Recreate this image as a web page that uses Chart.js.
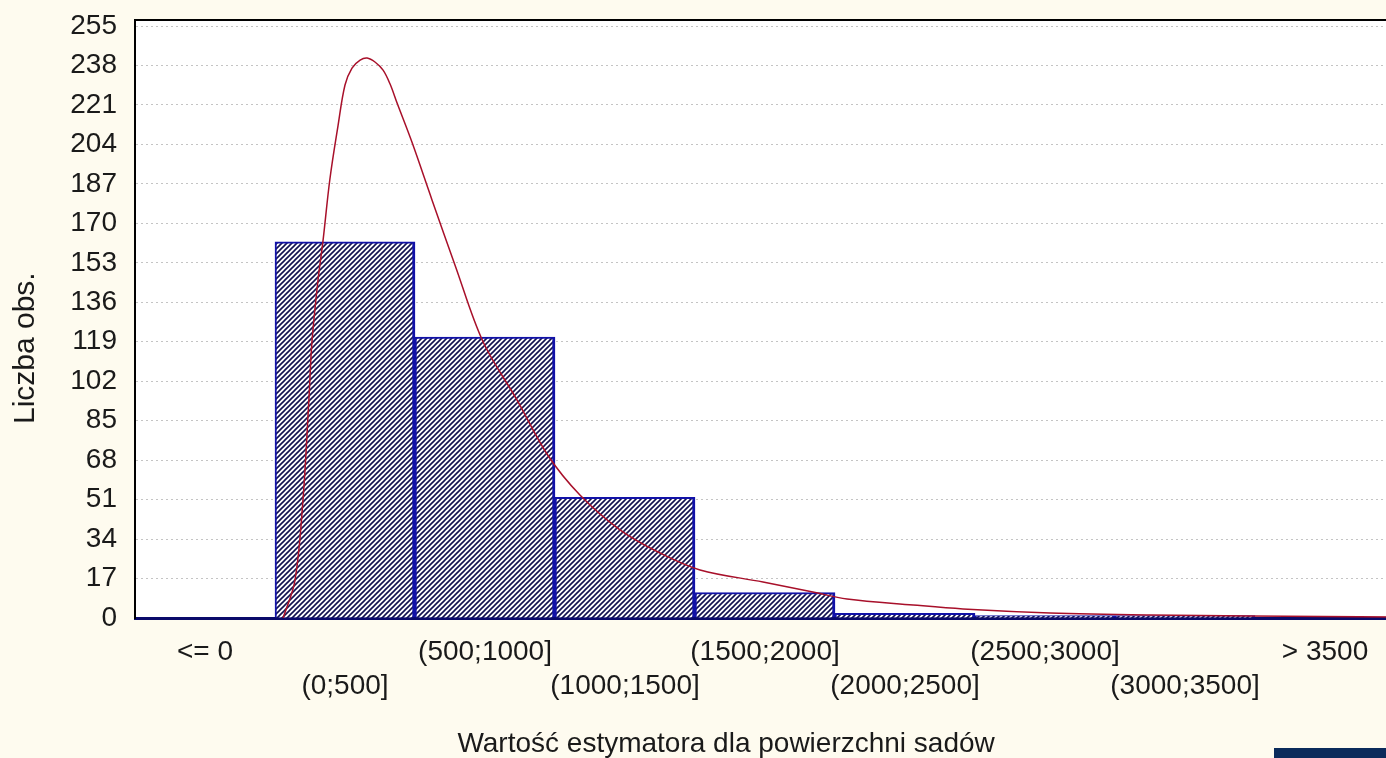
<!DOCTYPE html>
<html>
<head>
<meta charset="utf-8">
<script src="https://cdn.jsdelivr.net/npm/chart.js@4.4.1/dist/chart.umd.min.js"></script>
<style>
  html, body { margin: 0; padding: 0; background: #fefbef; overflow: hidden; }
  #wrap { position: relative; width: 1386px; height: 758px; overflow: hidden; }
  #corner { position: absolute; left: 1274px; top: 748px; width: 112px; height: 10px; background: #0b2b5b; }
</style>
</head>
<body>
<div id="wrap">
  <canvas id="histChart" width="1400" height="758"></canvas>
  <div id="corner"></div>
</div>
<script>
// Klasy histogramu i liczebnosci
const klasy = ['<= 0', '(0;500]', '(500;1000]', '(1000;1500]', '(1500;2000]',
               '(2000;2500]', '(2500;3000]', '(3000;3500]', '> 3500'];
const liczebnosci = [0, 162, 121, 52, 11, 2, 1, 1, 0];

// Krzywa dopasowanego rozkladu
const krzywaX = [29, 71, 100, 121, 132, 154, 171, 196, 225, 250, 275, 304, 329, 357, 386, 411,
                 436, 489, 561, 643, 743, 864, 975, 1089, 1232, 1375, 1518, 1743, 1921, 2043,
                 2279, 2457, 2768, 3125, 3482, 4000];
const krzywaY = [0, 16, 51, 94, 119, 146, 162, 189, 212, 229.6, 236.9, 240.3, 241.2, 239.5, 236, 230,
                 221.8, 205, 180, 152, 119, 94, 70, 53, 38, 28, 20.7, 15.5, 11.2, 8.2,
                 5.6, 3.9, 2.2, 1.3, 0.9, 0.4];

// Podzialka osi Y
const osY = [0, 17, 34, 51, 68, 85, 102, 119, 136, 153, 170, 187, 204, 221, 238, 255];

const FONT = "'Liberation Sans', Arial, sans-serif";
const nbsp = n => '\u00a0'.repeat(n);

// Kreskowanie slupkow
function kreskowanie(ctx) {
    const c = document.createElement('canvas');
    c.width = 5; c.height = 5;
    const g = c.getContext('2d');
    g.fillStyle = '#ffffff';
    g.fillRect(0, 0, 5, 5);
    g.strokeStyle = '#121250';
    g.lineWidth = 1.6;
    g.beginPath();
    g.moveTo(-1, 6); g.lineTo(6, -1);
    g.moveTo(-1, 1); g.lineTo(1, -1);
    g.moveTo(4, 6); g.lineTo(6, 4);
    g.stroke();
    return ctx.createPattern(c, 'repeat');
}

// Biale tlo obszaru wykresu
const tloWykresu = {
    id: 'tloWykresu',
    beforeDraw(chart) {
        const { ctx, chartArea: a } = chart;
        ctx.save();
        ctx.fillStyle = '#ffffff';
        ctx.fillRect(a.left, a.top, a.right - a.left, a.bottom - a.top);
        ctx.restore();
    }
};

const bezMarginesow = s => {
    s.paddingTop = 0; s.paddingBottom = 0; s.paddingLeft = 0; s.paddingRight = 0;
};

const ctx = document.getElementById('histChart').getContext('2d');

new Chart(ctx, {
    data: {
        labels: klasy,
        datasets: [{
            type: 'line',
            xAxisID: 'x2',
            data: krzywaX.map((x, i) => ({ x: x, y: krzywaY[i] })),
            borderColor: '#a8102a',
            borderWidth: 1.5,
            pointRadius: 0,
            tension: 0.35,
            order: 0
        }, {
            type: 'bar',
            xAxisID: 'x',
            data: liczebnosci,
            backgroundColor: kreskowanie(ctx),
            borderColor: '#1212a8',
            borderWidth: { top: 2, left: 2, right: 3, bottom: 0 },
            borderSkipped: false,
            grouped: false,
            barPercentage: 1,
            categoryPercentage: 1,
            order: 1
        }]
    },
    options: {
        responsive: false,
        animation: false,
        layout: { padding: { top: 20, right: 5, bottom: 0, left: 0 } },
        plugins: {
            legend: { display: false },
            tooltip: { enabled: false }
        },
        scales: {
            x: {
                type: 'category',
                position: 'bottom',
                offset: true,
                grid: { display: false, drawTicks: false },
                border: { display: true, color: '#0a0a6a', width: 3 },
                ticks: {
                    autoSkip: false,
                    maxRotation: 0,
                    padding: 17,
                    color: '#1a1a1a',
                    font: { family: FONT, size: 28, lineHeight: '34px' },
                    callback: function (v, i) {
                        const l = this.getLabelForValue(v);
                        return i % 2 ? ['', l] : l;
                    }
                },
                title: {
                    display: true,
                    text: 'Wartość estymatora dla powierzchni sadów' + nbsp(10),
                    color: '#1a1a1a',
                    font: { family: FONT, size: 28, lineHeight: 1 },
                    padding: { top: 0, bottom: 0 }
                },
                afterFit(s) { s.height = 140; bezMarginesow(s); }
            },
            x2: {
                type: 'linear',
                display: false,
                min: -500,
                max: 4000
            },
            xTop: {
                type: 'category',
                position: 'top',
                labels: klasy,
                offset: true,
                grid: { display: false, drawTicks: false },
                ticks: { display: false },
                border: { display: true, color: '#000000', width: 2 },
                afterFit(s) { s.height = 0; bezMarginesow(s); }
            },
            y: {
                min: 0,
                max: 257.6,
                grid: { color: '#c4c4c4', lineWidth: 1, drawTicks: false },
                border: { display: true, color: '#000000', width: 2, dash: [2, 3] },
                afterBuildTicks(s) { s.ticks = osY.map(v => ({ value: v })); },
                ticks: {
                    padding: 18,
                    color: '#1a1a1a',
                    font: { family: FONT, size: 28 }
                },
                title: {
                    display: true,
                    text: 'Liczba obs.' + nbsp(7),
                    color: '#1a1a1a',
                    font: { family: FONT, size: 30, lineHeight: 1 },
                    padding: { top: 11, bottom: 0 }
                },
                afterFit(s) { s.width = 135; bezMarginesow(s); }
            }
        }
    },
    plugins: [tloWykresu]
});
</script>
</body>
</html>
